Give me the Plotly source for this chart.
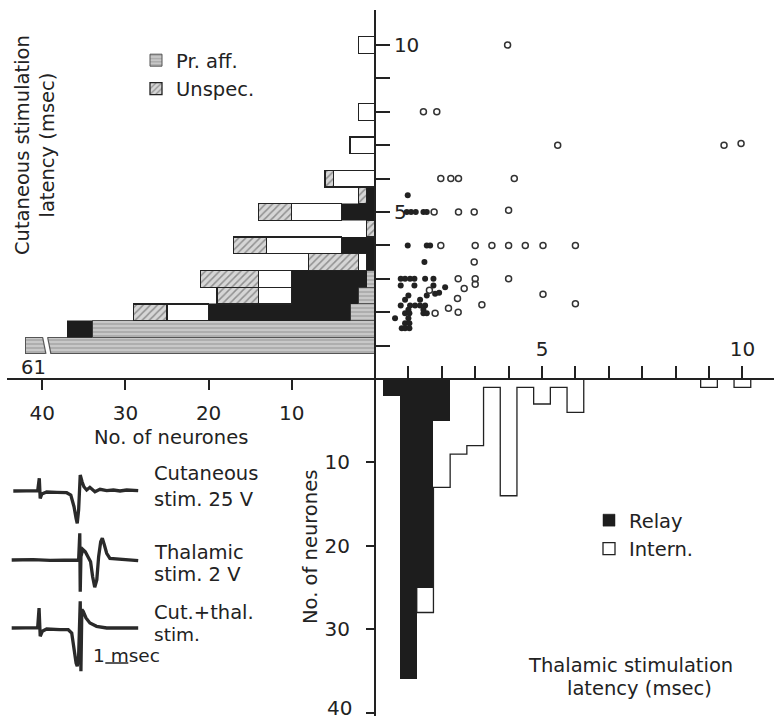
import plotly.graph_objects as go

# ------------------------------------------------------------------ data
# Left histogram: cutaneous stimulation latency (msec, bin centres) and counts
cut_latency = [1.0, 1.5, 2.0, 2.5, 3.0, 3.5, 4.0, 4.5, 5.0, 5.5, 6.0, 6.5, 7.0, 7.5, 8.0, 8.5, 9.0, 9.5, 10.0]
cut_pr_aff  = [61, 34, 3, 2, 1, 0, 0, 0, 0, 0, 0, 0, 0, 0, 0, 0, 0, 0, 0]
cut_relay   = [0, 3, 17, 8, 9, 1, 4, 0, 4, 1, 0, 0, 0, 0, 0, 0, 0, 0, 0]
cut_intern  = [0, 0, 5, 4, 4, 1, 9, 0, 6, 0, 5, 0, 3, 0, 2, 0, 0, 0, 2]
cut_unspec  = [0, 0, 4, 5, 7, 6, 4, 1, 4, 1, 1, 0, 0, 0, 0, 0, 0, 0, 0]

# Bottom histogram: thalamic stimulation latency (axis units, bin centres) and counts
thal_latency = [0.5, 1.0, 1.5, 2.0, 2.5, 3.0, 3.5, 4.0, 4.5, 5.0, 5.5, 6.0, 10.0, 11.0]
thal_relay   = [2, 36, 25, 5, 0, 0, 0, 0, 0, 0, 0, 0, 0, 0]
thal_intern  = [0, 0, 3, 8, 9, 8, 1, 14, 1, 3, 1, 4, 1, 1]

# Scatter: thalamic latency (x) vs cutaneous latency (y)
relay_thal = [0.98, 0.95, 1.08, 1.22, 1.45, 1.55, 0.98, 1.55, 1.65, 1.48,
              0.77, 0.9, 1.05, 1.18, 1.5, 1.75, 0.77, 1.18, 1.75, 2.1,
              1.0, 1.55, 1.8, 1.92, 0.9, 1.35, 0.77, 1.05, 1.2, 1.35, 1.5,
              1.0, 1.45, 0.9, 1.03, 1.45, 1.55, 0.6, 1.0, 0.9, 1.03, 0.8, 0.9, 1.03]
relay_cut  = [5.5, 5.0, 5.0, 5.0, 5.0, 5.0, 4.0, 4.0, 4.0, 3.5,
              3.0, 3.0, 3.0, 3.0, 3.0, 3.0, 2.8, 2.8, 2.8, 2.75,
              2.5, 2.5, 2.55, 2.58, 2.37, 2.37, 2.2, 2.2, 2.2, 2.2, 2.2,
              2.07, 2.07, 1.97, 1.97, 1.97, 1.97, 1.82, 1.82, 1.67, 1.67, 1.52, 1.52, 1.52]
intern_thal = [3.97, 1.45, 1.85, 5.47, 10.45, 10.96, 1.97, 2.27, 2.5, 4.17,
               1.77, 2.5, 2.97, 4.0, 1.97, 3.0, 3.5, 4.0, 4.5, 5.03, 6.0,
               2.97, 2.49, 3.0, 4.0, 3.0, 2.67, 1.63, 5.03, 2.47, 3.2, 6.0,
               2.2, 2.49, 1.8]
intern_cut  = [10.0, 8.0, 8.0, 7.0, 7.0, 7.05, 6.0, 6.0, 6.0, 6.0,
               5.0, 5.0, 5.0, 5.05, 4.0, 4.0, 4.0, 4.0, 4.0, 4.0, 4.0,
               3.5, 3.0, 3.0, 3.0, 2.84, 2.71, 2.66, 2.54, 2.41, 2.22, 2.25,
               2.12, 2.0, 1.97]

# Oscilloscope records (time in msec, amplitude in arbitrary units)
rec1_t = [0, 0.87, 1.06, 1.13, 1.17, 1.24, 1.45, 1.89, 2.32, 2.5, 2.64, 2.73, 2.78, 2.84,
          2.89, 2.91, 2.99, 3.07, 3.19, 3.33, 3.55, 3.77, 4.06, 4.35, 4.64, 4.93, 5.43]
rec1_v = [0, -0.3, 0.3, 12.7, -7.3, -3, -1, -1.3, -1.7, -4, -15.7, -27.3, -32.3, -19,
          7.7, 16, 9.3, 4.3, 1, 3.7, -0.7, 1.7, 0.3, 1, 0, 1, 0.3]
rec2_t = [-0.07, 0.87, 1.6, 2.32, 2.84, 2.89, 2.91, 2.94, 3.02, 3.13, 3.26, 3.36, 3.45,
          3.54, 3.63, 3.71, 3.8, 3.87, 3.96, 4.06, 4.2, 4.64, 5.43]
rec2_v = [0, 0.3, -0.3, 0.3, 0, 26.7, -31.7, 3.3, 10.7, 8.3, 3.3, -1.7, -16.7,
          -27.3, -20, 3.3, 18.3, 21.7, 15, 6.7, 1.7, 0.7, -0.7]
rec3_t = [-0.07, 0.87, 1.06, 1.12, 1.17, 1.26, 1.45, 2.03, 2.39, 2.54, 2.64, 2.73, 2.78,
          2.84, 2.87, 2.91, 2.94, 2.98, 3.04, 3.16, 3.33, 3.62, 4.06, 4.64, 5.43]
rec3_v = [0, -0.3, 0.3, 20, -8.3, -3.3, -1, -1.7, -1.7, -5, -21.7, -35, -38.3,
          -28.3, -5, 26.7, -43.3, 18.3, 16.7, 10, 5, 1.7, 0, -0.3, 0]
scale_bar_ms = 1.0
scale_bar_start = 4.0

# Tick labels
thal_tick_vals = [1, 2, 3, 4, 5, 6, 7, 8, 9, 10, 11]
thal_tick_text = ["", "", "", "", "5", "", "", "", "", "", "10"]
cut_tick_vals = [1, 2, 3, 4, 5, 6, 7, 8, 9, 10]
cut_tick_text = ["", "", "", "", "5", "", "", "", "", "10"]
count_tick_vals = [10, 20, 30, 40]
count_tick_text = ["10", "20", "30", "40"]

# ------------------------------------------------------------------ layout geometry
W, H = 774, 721
OX, OY = 375, 379            # pixel position of the origin
X_LEFT, X_RIGHT = 7, W       # plot area, px
Y_TOP, Y_BOT = 10, 716
PX_MS = 33.4                 # px per latency unit
PX_N_LEFT = 8.32             # px per neurone (left histogram)
PX_N_BOT = 8.34              # px per neurone (bottom histogram)
PX_T = 23.0                  # px per msec of oscilloscope records
T0_PX = 13.3
REC_BASE = [491, 560, 628]   # baselines of the three records (px from top)
SCALE_BAR_PY = 663
CAP = 42                     # broken-bar display limit (neurones)
BIN = 0.5

BLACK = "#1d1d1d"
FONT = "DejaVu Sans"
FS = 19.5


def fx(px):
    return px / W


def fy(py):
    return 1 - py / H


def nz(v):
    return [None if a == 0 else a for a in v]


fig = go.Figure()

# ---- left stacked histogram (x2 = neurones, y = cutaneous latency)
pr_disp = [min(v, CAP) for v in cut_pr_aff]
fig.add_trace(go.Bar(
    y=cut_latency, x=nz(pr_disp), orientation="h", width=BIN, xaxis="x2", yaxis="y",
    name="Pr. aff.", legend="legend",
    marker=dict(color="#c4c4c4", line=dict(color="#555", width=1),
                pattern=dict(shape="-", fgcolor="#7c7c7c", bgcolor="#c8c8c8", size=4, solidity=0.35)),
))
fig.add_trace(go.Bar(
    y=cut_latency, x=nz(cut_relay), orientation="h", width=BIN, xaxis="x2", yaxis="y",
    name="Relay", legend="legend2",
    marker=dict(color=BLACK, line=dict(color=BLACK, width=0.5)),
))
fig.add_trace(go.Bar(
    y=cut_latency, x=nz(cut_intern), orientation="h", width=BIN, xaxis="x2", yaxis="y",
    name="Intern.", legend="legend2",
    marker=dict(color="white", line=dict(color="#222", width=1.3)),
))
fig.add_trace(go.Bar(
    y=cut_latency, x=nz(cut_unspec), orientation="h", width=BIN, xaxis="x2", yaxis="y",
    name="Unspec.", legend="legend",
    marker=dict(color="#d2d2d2", line=dict(color="#222", width=1.3),
                pattern=dict(shape="/", fgcolor="#4a4a4a", bgcolor="#d6d6d6", size=5, solidity=0.3)),
))

# ---- bottom stacked histogram (x = thalamic latency, y2 = neurones)
fig.add_trace(go.Bar(
    x=thal_latency, y=nz(thal_relay), width=BIN, xaxis="x", yaxis="y2",
    showlegend=False, marker=dict(color=BLACK, line=dict(width=0)),
))
fig.add_trace(go.Bar(
    x=thal_latency, y=nz(thal_intern), width=BIN, xaxis="x", yaxis="y2",
    showlegend=False, marker=dict(color="white", line=dict(width=0)),
))
# stepped outline of the interneurone histogram
half = BIN / 2
runs, cur = [], []
for c, r, i in zip(thal_latency, thal_relay, thal_intern):
    if i > 0:
        if cur and abs(c - cur[-1][0] - BIN) > 1e-6:
            runs.append(cur)
            cur = []
        cur.append((c, r, r + i))
    elif cur:
        runs.append(cur)
        cur = []
if cur:
    runs.append(cur)
ox, oy = [], []
for run in runs:
    c0, b0, t0 = run[0]
    ox += [c0 - half]
    oy += [b0]
    for c, b, t in run:
        ox += [c - half, c + half]
        oy += [t, t]
    cl, bl, tl = run[-1]
    ox += [cl + half, None]
    oy += [bl, None]
fig.add_trace(go.Scatter(x=ox, y=oy, xaxis="x", yaxis="y2", mode="lines",
                         line=dict(color="#222", width=1.3), showlegend=False, hoverinfo="skip"))

# ---- scatter
fig.add_trace(go.Scatter(x=relay_thal, y=relay_cut, mode="markers", xaxis="x", yaxis="y",
                         showlegend=False,
                         marker=dict(symbol="circle", size=6, color="#222")))
fig.add_trace(go.Scatter(x=intern_thal, y=intern_cut, mode="markers", xaxis="x", yaxis="y",
                         showlegend=False,
                         marker=dict(symbol="circle-open", size=6, color="#333", line=dict(width=1.5))))

# ---- oscilloscope records
for t, v, base in [(rec1_t, rec1_v, REC_BASE[0]), (rec2_t, rec2_v, REC_BASE[1]), (rec3_t, rec3_v, REC_BASE[2])]:
    fig.add_trace(go.Scatter(x=t, y=[a - base for a in v], xaxis="x3", yaxis="y3", mode="lines",
                             line=dict(color="#2a2a2a", width=3.3), showlegend=False, hoverinfo="skip"))
fig.add_trace(go.Scatter(x=[scale_bar_start, scale_bar_start + scale_bar_ms],
                         y=[-SCALE_BAR_PY, -SCALE_BAR_PY], xaxis="x3", yaxis="y3", mode="lines",
                         line=dict(color="#222", width=1.5), showlegend=False, hoverinfo="skip"))

# ---- axes
xdom = [fx(X_LEFT), fx(X_RIGHT)]
ydom = [fy(Y_BOT), fy(Y_TOP)]
axis_common = dict(showgrid=False, zeroline=False, tickcolor="#222", tickwidth=1.8,
                   automargin=False,
                   tickfont=dict(family=FONT, size=20, color="#222"))

layout = dict(
    width=W, height=H, margin=dict(l=0, r=0, t=0, b=0, pad=0, autoexpand=False),
    paper_bgcolor="white", plot_bgcolor="white",
    font=dict(family=FONT, size=FS, color="#222"),
    barmode="stack",
    xaxis=dict(domain=xdom, range=[(X_LEFT - OX) / PX_MS, (X_RIGHT - OX) / PX_MS],
               anchor="free", position=fy(OY), side="top",
               ticks="outside", ticklen=12, tickvals=thal_tick_vals, ticktext=thal_tick_text,
               ticklabelstandoff=2,
               showline=True, linecolor="#222", linewidth=1.8, **axis_common),
    xaxis2=dict(domain=xdom, overlaying="x", range=[(OX - X_LEFT) / PX_N_LEFT, (OX - X_RIGHT) / PX_N_LEFT],
                anchor="free", position=fy(OY), side="bottom",
                ticks="outside", ticklen=10, tickvals=count_tick_vals, ticktext=count_tick_text,
                ticklabelstandoff=6,
                showline=False, **axis_common),
    xaxis3=dict(domain=xdom, overlaying="x", range=[(X_LEFT - T0_PX) / PX_T, (X_RIGHT - T0_PX) / PX_T],
                visible=False),
    yaxis=dict(domain=ydom, range=[(OY - Y_BOT) / PX_MS, (OY - Y_TOP) / PX_MS],
               anchor="free", position=fx(OX), side="right",
               ticks="outside", ticklen=14, tickvals=cut_tick_vals, ticktext=cut_tick_text,
               ticklabelstandoff=0,
               showline=True, linecolor="#222", linewidth=1.8, **axis_common),
    # last label of the lower count axis is drawn separately (it sits at the page edge)
    yaxis2=dict(domain=ydom, overlaying="y", range=[(Y_BOT - OY) / PX_N_BOT, (Y_TOP - OY) / PX_N_BOT],
                anchor="free", position=fx(OX), side="left",
                ticks="outside", ticklen=9, tickvals=count_tick_vals,
                ticktext=count_tick_text[:-1] + [""],
                ticklabelstandoff=12,
                showline=False, **axis_common),
    yaxis3=dict(domain=ydom, overlaying="y", range=[-Y_BOT, -Y_TOP], visible=False),
    legend=dict(x=fx(136), y=fy(41), xanchor="left", yanchor="top", bgcolor="rgba(0,0,0,0)",
                traceorder="normal",
                font=dict(family=FONT, size=FS), tracegroupgap=0, itemwidth=30),
    legend2=dict(x=fx(589), y=fy(501), xanchor="left", yanchor="top", bgcolor="rgba(0,0,0,0)",
                 traceorder="normal",
                 font=dict(family=FONT, size=FS), tracegroupgap=0, itemwidth=30),
)
fig.update_layout(**layout)

# ---- break in the over-long first bar
row = cut_latency[0]
g_top, g_bot = row + BIN / 2 + 0.03, row - BIN / 2 - 0.03
gap_a_top, gap_a_bot = CAP - 2.05, CAP - 2.45     # outer edge of gap
gap_b_top, gap_b_bot = CAP - 2.65, CAP - 3.05     # inner edge of gap
fig.add_shape(type="path", xref="x2", yref="y",
              path=f"M {gap_a_top},{g_top} L {gap_b_top},{g_top} L {gap_b_bot},{g_bot} L {gap_a_bot},{g_bot} Z",
              fillcolor="white", line=dict(width=0), layer="above")
for a, b in [(gap_a_top, gap_a_bot), (gap_b_top, gap_b_bot)]:
    fig.add_shape(type="line", xref="x2", yref="y", x0=a, y0=row + BIN / 2, x1=b, y1=row - BIN / 2,
                  line=dict(color="#555", width=1.2), layer="above")

# ---- text
def note(text, px, py, angle=0, xanchor="center", size=FS):
    fig.add_annotation(text=text, x=fx(px), y=fy(py), xref="paper", yref="paper",
                       showarrow=False, textangle=angle, xanchor=xanchor, yanchor="middle",
                       font=dict(family=FONT, size=size, color="#222"))


# bottom-most count label, placed through the count axis (nudged up to stay on the page)
fig.add_annotation(text=count_tick_text[-1], x=fx(OX - 21), y=count_tick_vals[-1],
                   xref="paper", yref="y2", showarrow=False, xanchor="right", yanchor="middle",
                   yshift=5, font=dict(family=FONT, size=20, color="#222"))

note(str(cut_pr_aff[0]), 33, 367)
note("Cutaneous stimulation<br>latency (msec)", 35, 145, angle=-90)
note("No. of neurones", 171, 438)
note("No. of neurones", 310, 547, angle=-90)
note("Thalamic stimulation", 630, 665)
note("latency (msec)", 639, 688)
note("Cutaneous", 152, 473, xanchor="left")
note("stim. 25 V", 152, 499, xanchor="left")
note("Thalamic", 152, 552, xanchor="left")
note("stim. 2 V", 152, 574, xanchor="left")
note("Cut.+thal.", 152, 612, xanchor="left")
note("stim.", 152, 634, xanchor="left", size=18.5)
note("1 msec", 91, 655, xanchor="left", size=18.5)

fig.write_html(
    "out.html",
    config={"displayModeBar": False},
    post_script="document.body.style.margin='0px';document.body.style.overflow='hidden';",
)
